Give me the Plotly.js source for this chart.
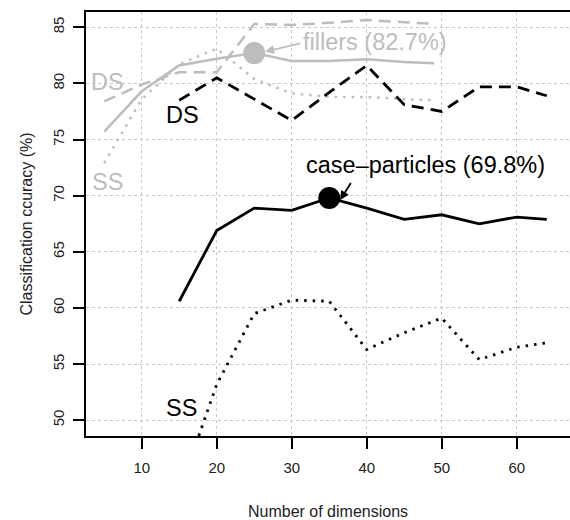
<!DOCTYPE html>
<html>
<head>
<meta charset="utf-8">
<script src="https://cdn.plot.ly/plotly-3.0.1.min.js"></script>
<style>html,body{margin:0;padding:0;background:#fff;overflow:hidden}#chart{width:570px;height:520px}</style>
</head>
<body>
<div id="chart"></div>
<script>
// Number of dimensions
const dimsFillers = [5, 10, 15, 20, 25, 30, 35, 40, 45, 49];
const dimsCase = [15, 20, 25, 30, 35, 40, 45, 50, 55, 60, 64];

// fillers (gray)
const fillersAll = [75.7, 79.3, 81.6, 82.2, 82.7, 82.0, 82.0, 82.15, 81.9, 81.8];
const fillersDS  = [78.4, 79.9, 81.0, 81.0, 85.3, 85.2, 85.4, 85.65, 85.45, 85.3];
const fillersSS  = [72.9, 78.6, 81.7, 83.1, 80.4, 79.1, 78.8, 78.8, 78.6, 78.5];

// case-particles (black)
const caseAll = [60.6, 66.9, 68.9, 68.7, 69.8, 68.9, 67.9, 68.3, 67.5, 68.1, 67.9];
const caseDS  = [78.5, 80.5, 78.6, 76.7, 79.2, 81.6, 78.1, 77.5, 79.7, 79.7, 78.9];
const caseSS  = [43.6, 53.2, 59.5, 60.7, 60.6, 56.3, 57.8, 59.1, 55.4, 56.5, 56.9];

// highlighted best points
const bestX = [25, 35];
const bestY = [82.7, 69.8];
const bestLabels = ["fillers (82.7%)", "case\u2013particles (69.8%)"];

const xTicks = [10, 20, 30, 40, 50, 60];
const yTicks = [50, 55, 60, 65, 70, 75, 80, 85];

const GRAY = "#bdbdbd";
const FONT = "Liberation Sans, Arial, sans-serif";

const traces = [
  {x: dimsFillers, y: fillersDS, mode: "lines", line: {color: GRAY, width: 2.5, dash: "12px,7px"}},
  {x: dimsFillers, y: fillersSS, mode: "lines", line: {color: GRAY, width: 2.5, dash: "2.5px,6px"}},
  {x: dimsFillers, y: fillersAll, mode: "lines", line: {color: GRAY, width: 2.5}},
  {x: dimsCase, y: caseDS, mode: "lines", line: {color: "#000", width: 2.8, dash: "12px,7px"}},
  {x: dimsCase, y: caseSS, mode: "lines", line: {color: "#000", width: 2.8, dash: "2.5px,6px"}},
  {x: dimsCase, y: caseAll, mode: "lines", line: {color: "#000", width: 2.8}},
  {x: [bestX[0]], y: [bestY[0]], mode: "markers", marker: {color: GRAY, size: 22}},
  {x: [bestX[1]], y: [bestY[1]], mode: "markers", marker: {color: "#000", size: 22}}
];

const annotations = [
  {x: 5.5, y: 80.1, text: "DS", color: GRAY},
  {x: 5.5, y: 71.2, text: "SS", color: GRAY},
  {x: 15.45, y: 77.15, text: "DS", color: "#000"},
  {x: 15.3, y: 51.1, text: "SS", color: "#000"},
  {x: 41.1, y: 83.7, text: bestLabels[0], color: GRAY},
  {x: 47.8, y: 72.7, text: bestLabels[1], color: "#000"}
].map(a => ({
  x: a.x, y: a.y, xref: "x", yref: "y", text: a.text, showarrow: false,
  xanchor: "center", yanchor: "middle",
  font: {family: FONT, size: 23.5, color: a.color}
}));

annotations.push(
  {x: 26.45, y: 82.84, xref: "x", yref: "y", text: "", showarrow: true,
   ax: 36.7, ay: -8.4, arrowcolor: GRAY, arrowwidth: 1.8, arrowhead: 2, arrowsize: 1},
  {x: 36.45, y: 69.62, xref: "x", yref: "y", text: "", showarrow: true,
   ax: 11.7, ay: -18.4, arrowcolor: "#000", arrowwidth: 1.8, arrowhead: 2, arrowsize: 1}
);

const layout = {
  width: 570, height: 520,
  margin: {l: 86, r: 0, t: 12, b: 84},
  paper_bgcolor: "#fff", plot_bgcolor: "#fff",
  showlegend: false,
  font: {family: FONT, size: 15, color: "#222"},
  xaxis: {
    range: [2.57, 67.1], tickvals: xTicks, ticktext: xTicks.map(String),
    showline: true, mirror: true, linecolor: "#000", linewidth: 2,
    ticks: "outside", ticklen: 11, tickwidth: 2, tickcolor: "#000",
    ticklabelstandoff: 6,
    showgrid: true, gridcolor: "#c8c8c8", griddash: "dot", gridwidth: 1,
    zeroline: false, automargin: false,
    tickfont: {family: FONT, size: 15, color: "#222"},
    title: {text: "Number of dimensions", font: {family: FONT, size: 16, color: "#222"}, standoff: 36}
  },
  yaxis: {
    range: [48.6, 86.36], tickvals: yTicks, ticktext: yTicks.map(String),
    tickangle: -90,
    showline: true, mirror: false, linecolor: "#000", linewidth: 2,
    ticks: "outside", ticklen: 11, tickwidth: 2, tickcolor: "#000",
    ticklabelstandoff: 3,
    showgrid: true, gridcolor: "#c8c8c8", griddash: "dot", gridwidth: 1,
    zeroline: false, automargin: false,
    tickfont: {family: FONT, size: 15, color: "#222"},
    title: {text: "Classification ccuracy (%)", font: {family: FONT, size: 16, color: "#222"}, standoff: 13}
  },
  annotations: annotations
};

Plotly.newPlot("chart", traces, layout, {displayModeBar: false, staticPlot: true});
</script>
</body>
</html>
